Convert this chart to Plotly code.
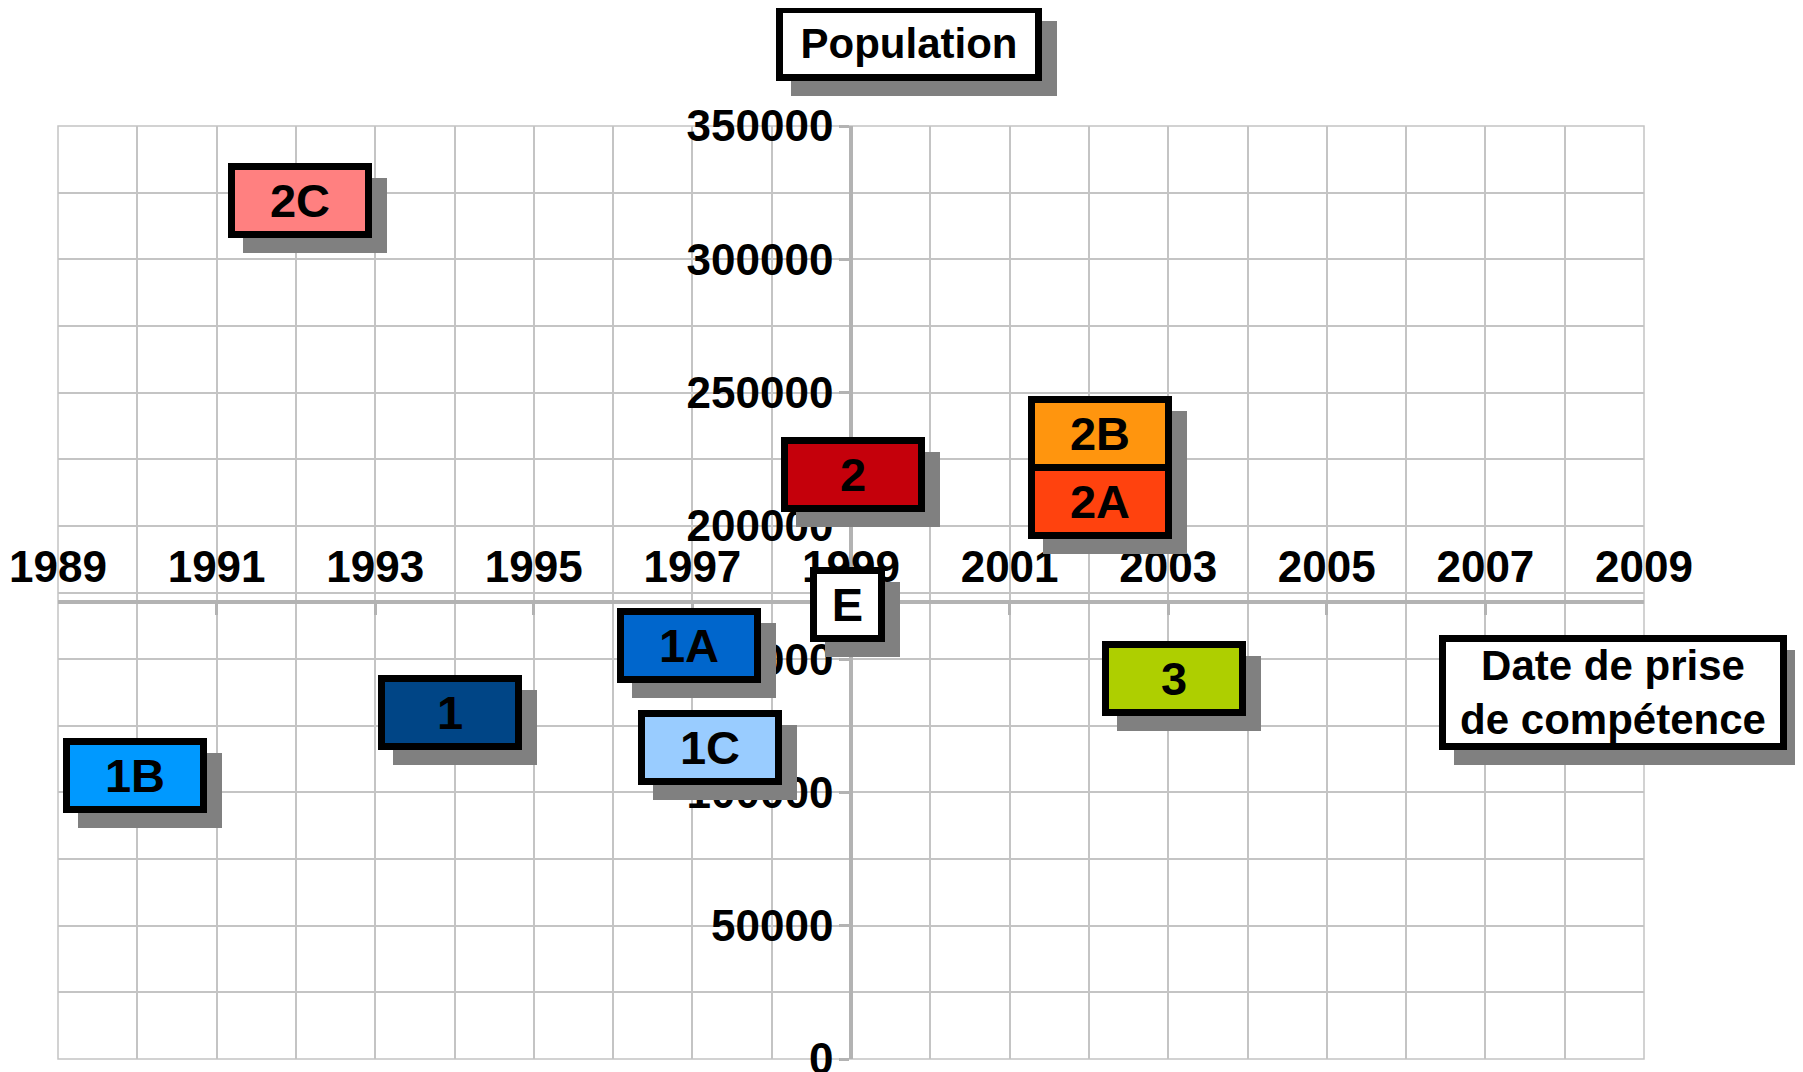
import plotly.graph_objects as go

# ---- data ----
labels = ["2C", "2", "2B", "2A", "E", "1A", "3", "1", "1C", "1B"]
years = [1992.05, 1999.03, 2002.14, 2002.14, 1998.95, 1996.96, 2003.07, 1993.94, 1997.22, 1989.97]
population = [322000, 219300, 234800, 209000, 170500, 155200, 142700, 129800, 116700, 106500]
fill_colors = ["#ff8080", "#c5000b", "#ff950e", "#ff420e", "#ffffff",
               "#0066cc", "#aecf00", "#004586", "#99ccff", "#0099ff"]

x_range = [1989, 2009]
y_range = [0, 350000]
x_cross = 171500   # population at which the year axis crosses
y_cross = 1999     # year at which the population axis crosses

x_title = "Date de prise<br>de compétence"
y_title = "Population"

FONT = "Liberation Sans"
GRID = "#c4c4c4"
AXIS = "#b3b3b3"
SHADOW = "#808080"
BW = 7
SH = 15

# page body has an 8px default margin: compensate so the plot lands where the reference has it
OFF = 8
W, H = 1803 - OFF, 1072 - OFF
L, R, T, B = 58 - OFF, 159, 126 - OFF, 13
PW, PH = W - L - R, H - T - B

fig = go.Figure()
fig.add_trace(go.Scatter(x=years, y=population, mode="markers",
                         marker=dict(size=1, opacity=0), hoverinfo="skip",
                         showlegend=False))

def boxed(text, x, y, w, h, fill, xref="x", yref="y", size=47):
    common = dict(x=x, y=y, xref=xref, yref=yref, showarrow=False,
                  xanchor="center", yanchor="middle", width=w, height=h,
                  borderwidth=BW, borderpad=0, align="center")
    shadow = dict(common, text=text, bgcolor=SHADOW, bordercolor=SHADOW,
                  font=dict(family=FONT, size=size, color=SHADOW, weight="bold"),
                  xshift=SH, yshift=-SH)
    box = dict(common, text=text, bgcolor=fill, bordercolor="black",
               font=dict(family=FONT, size=size, color="black", weight="bold"))
    return shadow, box

shadows, boxes = [], []
for lab, xv, yv, col in zip(labels, years, population, fill_colors):
    w = 61 if lab == "E" else 130
    s, b = boxed(lab, xv, yv, w, 61, col)
    shadows.append(s)
    boxes.append(b)

# axis title boxes (paper coordinates; centres measured in page pixels)
def px_to_paper(px, py):
    return (px - OFF - L) / PW, (H - B - (py - OFF)) / PH

px, py = px_to_paper(909, 43.5)
s, b = boxed(y_title, px, py, 252, 61, "#ffffff", xref="paper", yref="paper", size=42)
shadows.append(s); boxes.append(b)
px, py = px_to_paper(1613, 692)
s, b = boxed(x_title, px, py, 334, 101, "#ffffff", xref="paper", yref="paper", size=42)
shadows.append(s); boxes.append(b)

tickfont = dict(family=FONT, size=44, color="black", weight="bold")

fig.update_layout(
    width=W, height=H,
    margin=dict(l=L, r=R, t=T, b=B, autoexpand=False),
    paper_bgcolor="white", plot_bgcolor="white",
    annotations=shadows + boxes,
    shapes=[dict(type="rect", xref="x domain", yref="y domain", x0=0, x1=1, y0=0, y1=1,
                 line=dict(color=GRID, width=1.5), layer="below")],
    xaxis=dict(range=x_range, tick0=1989, dtick=2, side="top", automargin=False,
               anchor="free", position=(x_cross - y_range[0]) / (y_range[1] - y_range[0]),
               showgrid=True, gridcolor=GRID, gridwidth=1.5,
               minor=dict(dtick=1, showgrid=True, gridcolor=GRID, gridwidth=1.5, ticks=""),
               showline=True, linecolor=AXIS, linewidth=3.5,
               ticks="inside", ticklen=11, tickwidth=3, tickcolor=AXIS,
               ticklabelstandoff=0, ticklabeloverflow="allow", zeroline=False,
               tickfont=tickfont),
    yaxis=dict(range=y_range, tick0=0, dtick=50000, tickformat="d", automargin=False,
               anchor="free", position=(y_cross - x_range[0]) / (x_range[1] - x_range[0]),
               showgrid=True, gridcolor=GRID, gridwidth=1.5,
               minor=dict(dtick=25000, showgrid=True, gridcolor=GRID, gridwidth=1.5, ticks=""),
               showline=True, linecolor=AXIS, linewidth=3.5,
               ticks="outside", ticklen=10, tickwidth=3, tickcolor=AXIS,
               ticklabelstandoff=-3, ticklabeloverflow="allow", zeroline=False,
               tickfont=tickfont),
)

fig.write_html("out.html")
